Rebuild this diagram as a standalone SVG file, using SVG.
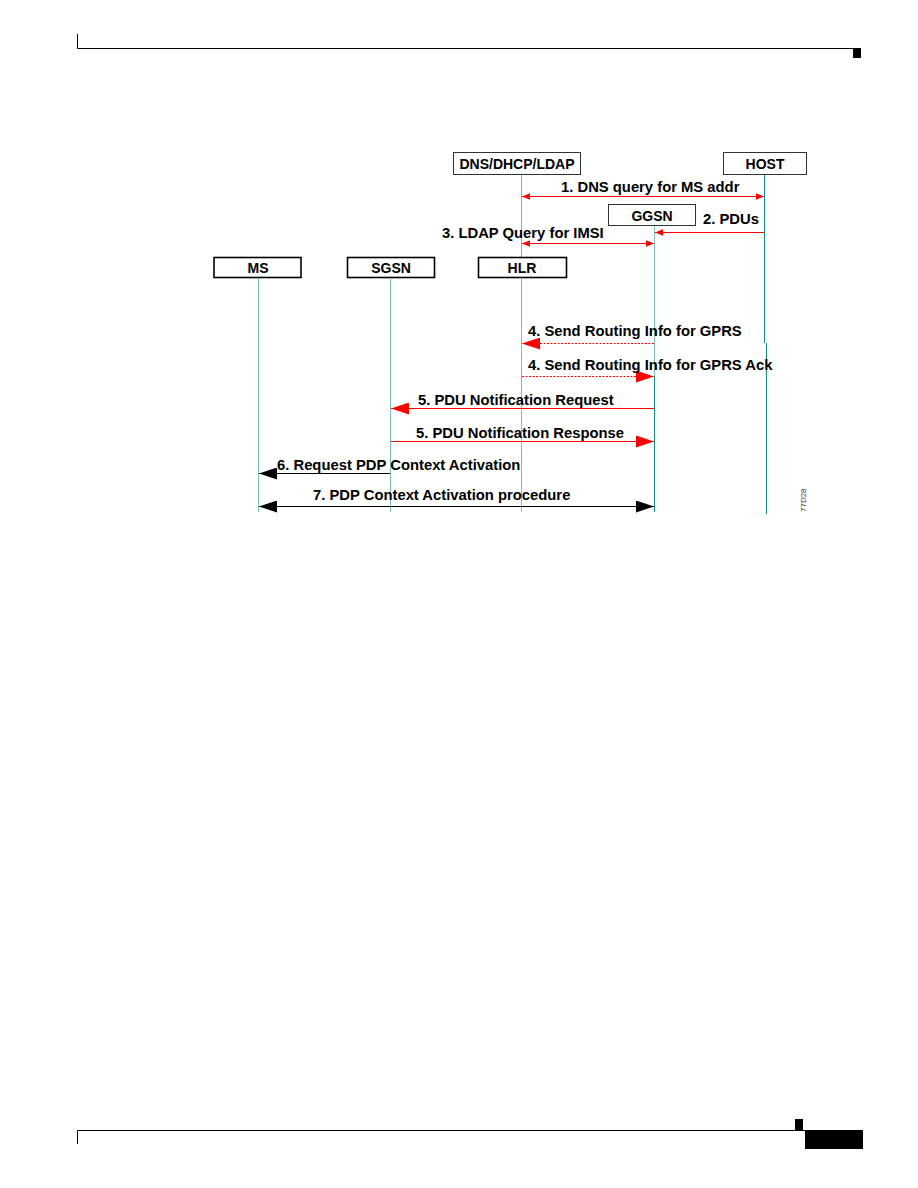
<svg xmlns="http://www.w3.org/2000/svg" width="918" height="1188" viewBox="0 0 918 1188">
<style>
text{font-family:"Liberation Sans",Arial,sans-serif;font-weight:bold;fill:#000}
.lbl{font-size:14.8px}
.box{font-size:14px;text-anchor:middle}
.b1{fill:#fff;stroke:#000;stroke-width:1.6}
.b2{fill:#fff;stroke:#333;stroke-width:1}
.ll{stroke:#7fbfbf;stroke-width:1;fill:none}
.lld{stroke:#1a8a84;stroke-width:1;fill:none}
.r{stroke:#ff0000;stroke-width:1;fill:none}
.rd{stroke:#ff0000;stroke-width:1;fill:none;stroke-dasharray:2 1.5}
.k{stroke:#000;stroke-width:1.2;fill:none}
.frame{stroke:#000;stroke-width:1;fill:none}
</style>
<defs>
<marker id="rs" markerUnits="userSpaceOnUse" markerWidth="8" markerHeight="8" viewBox="0 0 8 8" refX="8" refY="4" orient="auto-start-reverse"><path d="M0,0.8 L8,4 L0,7.2 z" fill="#ff0000"/></marker>
<marker id="rb" markerUnits="userSpaceOnUse" markerWidth="18" markerHeight="12" viewBox="0 0 18 12" refX="18" refY="6" orient="auto-start-reverse"><path d="M0,0 L18,6 L0,12 z" fill="#ff0000"/></marker>
<marker id="kb" markerUnits="userSpaceOnUse" markerWidth="18" markerHeight="12" viewBox="0 0 18 12" refX="18" refY="6" orient="auto-start-reverse"><path d="M0,0 L18,6 L0,12 z" fill="#000"/></marker>
</defs>
<g id="page-frame">
<path class="frame" d="M77.5,34 V48.5 H861"/>
<rect x="853" y="48" width="8" height="10" fill="#000"/>
<path class="frame" d="M77.5,1144 V1130.5 H806"/>
<rect x="795" y="1119" width="8" height="11" fill="#000"/>
<rect x="805" y="1130" width="58" height="19" fill="#000"/>
</g>
<g id="node-dns">
<rect class="b2" x="453.5" y="152.5" width="127" height="22"/>
<text class="box" x="517" y="169">DNS/DHCP/LDAP</text>
<line class="ll" x1="521.5" y1="175" x2="521.5" y2="257"/>
</g>
<g id="node-host">
<rect class="b2" x="723.5" y="152.5" width="83" height="22"/>
<text class="box" x="765" y="169">HOST</text>
<path class="lld" d="M764.5,175 V343 M766.5,343 V514"/>
</g>
<g id="node-ggsn">
<rect class="b2" x="608.5" y="204.5" width="87" height="21"/>
<text class="box" x="652" y="221">GGSN</text>
<line class="ll" x1="654.5" y1="226" x2="654.5" y2="376"/>
<line class="lld" x1="654.5" y1="376" x2="654.5" y2="512"/>
</g>
<g id="node-ms">
<rect class="b1" x="214" y="257.5" width="87" height="20"/>
<text class="box" x="258" y="273">MS</text>
<line class="ll" x1="258.5" y1="278" x2="258.5" y2="512"/>
</g>
<g id="node-sgsn">
<rect class="b1" x="347.5" y="257.5" width="87" height="20"/>
<text class="box" x="391" y="273">SGSN</text>
<line class="ll" x1="390.5" y1="279" x2="390.5" y2="512"/>
</g>
<g id="node-hlr">
<rect class="b1" x="478.5" y="257.5" width="88" height="20"/>
<text class="box" x="522" y="273">HLR</text>
<line class="ll" x1="521.5" y1="279" x2="521.5" y2="512"/>
</g>
<g id="connectors">
<line class="r" x1="522" y1="196.5" x2="764" y2="196.5" marker-start="url(#rs)" marker-end="url(#rs)"/>
<text class="lbl" x="561" y="192">1. DNS query for MS addr</text>
<line class="r" x1="764" y1="232.5" x2="655" y2="232.5" marker-end="url(#rs)"/>
<text class="lbl" x="703" y="224">2. PDUs</text>
<line class="r" x1="522" y1="243.5" x2="654" y2="243.5" marker-start="url(#rs)" marker-end="url(#rs)"/>
<text class="lbl" x="442" y="238">3. LDAP Query for IMSI</text>
<line class="rd" x1="654" y1="343.5" x2="522" y2="343.5" marker-end="url(#rb)"/>
<text class="lbl" x="528" y="336">4. Send Routing Info for GPRS</text>
<line class="rd" x1="522" y1="376.5" x2="654" y2="376.5" marker-end="url(#rb)"/>
<text class="lbl" x="528" y="370">4. Send Routing Info for GPRS Ack</text>
<line class="r" x1="654" y1="408.5" x2="391" y2="408.5" marker-end="url(#rb)"/>
<text class="lbl" x="418" y="405">5. PDU Notification Request</text>
<line class="r" x1="391" y1="441.5" x2="654" y2="441.5" marker-end="url(#rb)"/>
<text class="lbl" x="416" y="438">5. PDU Notification Response</text>
<line class="k" x1="390" y1="473.5" x2="259" y2="473.5" marker-end="url(#kb)"/>
<text class="lbl" x="277" y="470">6. Request PDP Context Activation</text>
<line class="k" x1="259" y1="506.5" x2="654" y2="506.5" marker-start="url(#kb)" marker-end="url(#kb)"/>
<text class="lbl" x="313" y="500">7. PDP Context Activation procedure</text>
</g>
<text x="806" y="512" transform="rotate(-90 806 512)" style="font-size:8px;font-weight:normal;fill:#333">77D28</text>
</svg>
